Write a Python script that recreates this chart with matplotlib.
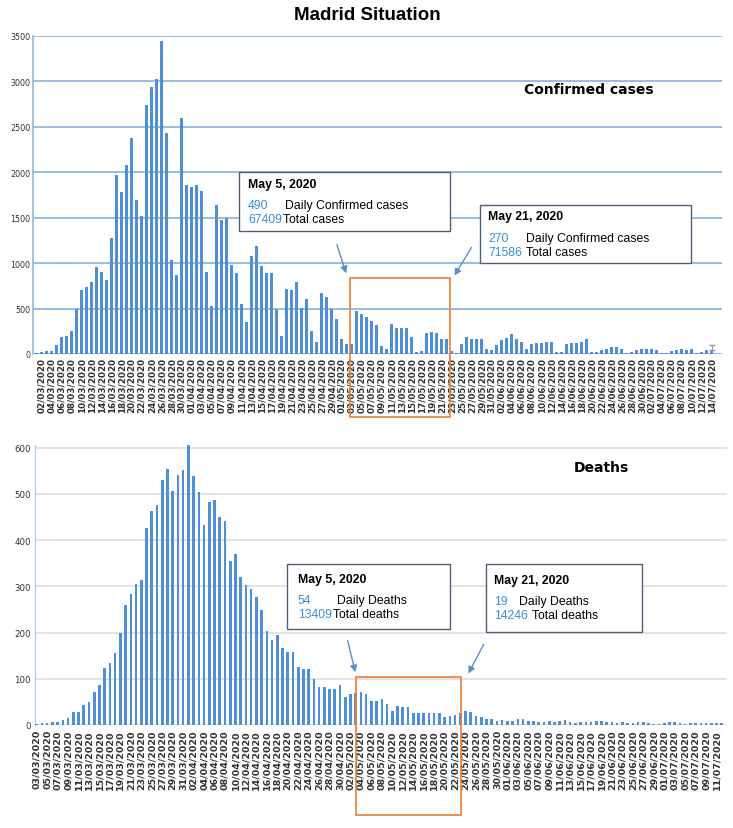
import numpy as np
import pandas as pd
import matplotlib.pyplot as plt
from matplotlib.patches import Rectangle, FancyArrowPatch

##############################
### data
##############################
case_dates = pd.date_range('2020-03-01', '2020-07-14')
cases = [15, 25, 30, 37, 100, 185, 200, 255, 495, 700,
         735, 790, 955, 900, 810, 1275, 1965, 1780, 2075, 2375,
         1700, 1515, 2745, 2940, 3030, 3440, 2435, 1040, 870, 2595,
         1860, 1835, 1860, 1790, 905, 530, 1640, 1470, 1495, 975,
         890, 550, 350, 1080, 1185, 965, 890, 890, 495, 200,
         715, 700, 790, 505, 610, 255, 130, 670, 625, 495,
         385, 170, 115, 115, 475, 440, 405, 360, 320, 85,
         50, 330, 285, 285, 290, 185, 25, 35, 230, 240,
         230, 165, 170, 35, 10, 115, 185, 160, 160, 165,
         55, 40, 95, 150, 180, 215, 170, 130, 50, 105,
         120, 125, 130, 135, 20, 25, 110, 120, 125, 130,
         160, 20, 25, 40, 60, 75, 75, 50, 15, 20,
         45, 50, 50, 50, 45, 10, 15, 30, 45, 55,
         40, 50, 15, 20, 45, 40]
last_case_err = 60

death_dates = pd.date_range('2020-03-03', '2020-07-12')
deaths = [3, 4, 4, 7, 6, 11, 15, 29, 29, 43,
          49, 72, 87, 123, 134, 156, 199, 260, 284, 305,
          313, 427, 463, 477, 530, 554, 506, 541, 551, 605,
          539, 504, 432, 482, 488, 451, 442, 354, 370, 321,
          302, 295, 276, 248, 204, 183, 195, 166, 159, 159,
          125, 121, 121, 100, 82, 82, 78, 78, 87, 61,
          67, 69, 71, 67, 53, 51, 56, 45, 31, 42,
          38, 38, 27, 27, 26, 27, 26, 27, 17, 20,
          22, 27, 31, 29, 20, 17, 13, 12, 9, 11,
          8, 9, 14, 12, 9, 8, 7, 7, 8, 7,
          9, 11, 6, 5, 6, 6, 7, 8, 8, 7,
          6, 5, 6, 5, 5, 6, 7, 5, 3, 3,
          5, 6, 7, 4, 3, 5, 5, 4, 5, 4,
          5, 4]

case_box1 = ["May 5, 2020", "490", "Daily Confirmed cases", "67409", "Total cases"]
case_box2 = ["May 21, 2020", "270", "Daily Confirmed cases", "71586", "Total cases"]
death_box1 = ["May 5, 2020", "54", "Daily Deaths", "13409", "Total deaths"]
death_box2 = ["May 21, 2020", "19", "Daily Deaths", "14246", "Total deaths"]

BAR = '#4f8fd6'
NUM = '#3d8fd0'
W, H = 733, 829


def fx(x):
    return x / W


def fy(y):
    return 1 - y / H


fig = plt.figure(figsize=(7.33, 8.29), dpi=100)
fig.text(fx(367), fy(15), "Madrid Situation", ha='center', va='center',
         fontsize=13.5, fontweight='bold', family='Liberation Sans')

################################
######## confirmed cases #######
################################
ax1 = fig.add_axes([fx(33), fy(355), fx(722) - fx(33), fy(37) - fy(355)])
xc = np.arange(len(cases))
ax1.bar(xc, cases, width=0.6, color=BAR, zorder=3)
ax1.errorbar(xc[-1], cases[-1], yerr=[[0], [last_case_err]], fmt='none',
             ecolor='#999999', elinewidth=0.8, capsize=2, zorder=4)
ax1.set_ylim(0, 3500)
ax1.set_xlim(-0.74, 137)
ax1.set_yticks(np.arange(0, 3501, 500))
ax1.yaxis.grid(True, color='#8fb8e2', linewidth=1.3, zorder=0)
ax1.set_xticks(xc[1::2])
ax1.set_xticklabels([d.strftime('%d/%m/%Y') for d in case_dates[1::2]],
                    rotation=90, fontsize=6.3, fontweight='bold', color='#333333')
for s in ['top', 'right', 'bottom']:
    ax1.spines[s].set_visible(False)
ax1.spines['left'].set_color('#8fb8e2')
ax1.spines['left'].set_linewidth(1.2)
ax1.tick_params(length=0, pad=2)
ax1.tick_params(axis='y', labelsize=5.8, labelcolor='#333333')
fig.text(fx(589), fy(90), "Confirmed cases", ha='center', va='center',
         fontsize=10, fontweight='bold')

################################
############ deaths ############
################################
ax2 = fig.add_axes([fx(35), fy(726), fx(727) - fx(35), fy(446) - fy(726)])
xd = np.arange(len(deaths))
ax2.bar(xd, deaths, width=0.5, color=BAR, zorder=3)
ax2.set_ylim(0, 606)
ax2.set_xlim(-0.33, 132)
ax2.set_yticks(np.arange(0, 601, 100))
ax2.yaxis.grid(True, color='#dedede', linewidth=1.2, zorder=0)
ax2.set_xticks(xd[0::2])
ax2.set_xticklabels([d.strftime('%d/%m/%Y') for d in death_dates[0::2]],
                    rotation=90, fontsize=6.8, fontweight='bold', color='#333333')
for s in ['top', 'right', 'bottom']:
    ax2.spines[s].set_visible(False)
ax2.spines['left'].set_color('#a9c6e8')
ax2.tick_params(length=0, pad=3)
ax2.tick_params(axis='y', labelsize=6.2, labelcolor='#333333')
fig.text(fx(601), fy(468), "Deaths", ha='center', va='center',
         fontsize=10, fontweight='bold')


# callout boxes, drawn in pixel coordinates of the figure
def callout(box, x0, y0, x1, y1, tx, ty, gap, lead):
    fig.patches.append(Rectangle((fx(x0), fy(y1)), fx(x1) - fx(x0), fy(y0) - fy(y1),
                                 transform=fig.transFigure, facecolor='white',
                                 edgecolor='#4d5f75', linewidth=1.0, zorder=5))
    kw = dict(family='Liberation Sans', va='center', zorder=6)
    fig.text(fx(tx), fy(ty), box[0], fontsize=8.8, fontweight='bold', **kw)
    fig.text(fx(tx), fy(ty + gap), box[1], fontsize=8.8, color=NUM, **kw)
    fig.text(fx(tx + lead[0]), fy(ty + gap), box[2], fontsize=8.8, **kw)
    fig.text(fx(tx), fy(ty + gap + 14), box[3], fontsize=8.8, color=NUM, **kw)
    fig.text(fx(tx + lead[1]), fy(ty + gap + 14), box[4], fontsize=8.8, **kw)


def arrow(x0, y0, x1, y1):
    fig.patches.append(FancyArrowPatch((fx(x0), fy(y0)), (fx(x1), fy(y1)),
                                       transform=fig.transFigure, arrowstyle='-|>',
                                       mutation_scale=10, color='#5b8fc7',
                                       linewidth=1.0, zorder=5))


def orange(x0, y0, x1, y1):
    fig.patches.append(Rectangle((fx(x0), fy(y1)), fx(x1) - fx(x0), fy(y0) - fy(y1),
                                 transform=fig.transFigure, fill=False,
                                 edgecolor='#ed7d31', linewidth=1.2, zorder=5))


callout(case_box1, 239, 173, 450, 232, 248, 185, 21, (37, 35))
callout(case_box2, 480, 206, 691, 264, 488, 217, 22, (38, 38))
arrow(336, 243, 347, 277)
arrow(473, 246, 453, 279)
orange(350, 279, 450, 418)

callout(death_box1, 287, 565, 450, 630, 298, 580, 21, (39, 35))
callout(death_box2, 486, 565, 642, 633, 494, 581, 21, (25, 38))
arrow(347, 639, 356, 676)
arrow(485, 643, 467, 677)
orange(356, 678, 461, 816)

print('[INFO] Saving plot as <out.png>')
fig.savefig('out.png', dpi=100)
